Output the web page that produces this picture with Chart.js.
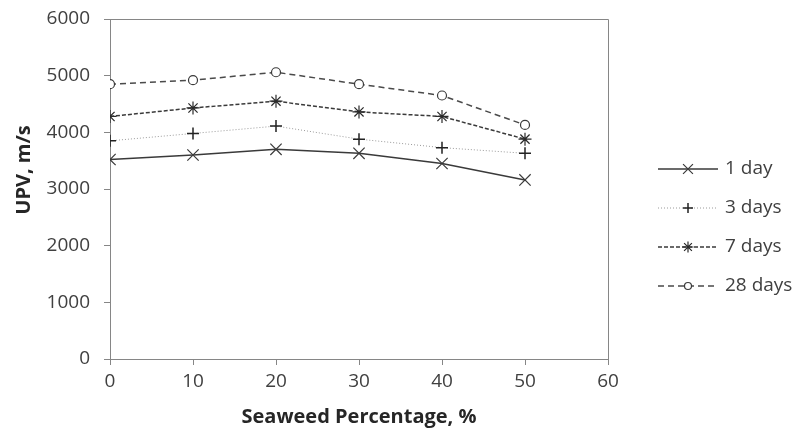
<!DOCTYPE html>
<html>
<head>
<meta charset="utf-8">
<script src="https://cdn.jsdelivr.net/npm/chart.js@4/dist/chart.umd.min.js"></script>
<style>
  html, body { margin: 0; padding: 0; background: #fff; }
  canvas { display: block; }
</style>
</head>
<body>
<canvas id="upvChart" width="797" height="432"></canvas>
<script>
    // Values
    const seaweedPct = [0, 10, 20, 30, 40, 50];
    const upv1Day   = [3520, 3600, 3700, 3630, 3450, 3160];
    const upv3Days  = [3850, 3980, 4110, 3880, 3730, 3630];
    const upv7Days  = [4280, 4430, 4550, 4360, 4280, 3880];
    const upv28Days = [4850, 4920, 5060, 4850, 4650, 4130];
    const seriesLabels = ['1 day', '3 days', '7 days', '28 days'];

    const axisGray = '#868686';
    const textGray = '#404040';
    const fontFamily = '"Open Sans", "Liberation Sans", sans-serif';

    const toPoints = vals => vals.map((v, i) => ({ x: seaweedPct[i], y: v }));

    // draws the plot box top/right edges, the custom legend and the y title
    const boxAndLegend = {
        id: 'boxAndLegend',
        beforeDatasetsDraw(chart) {
            const { ctx, chartArea: a } = chart;
            ctx.save();
            ctx.strokeStyle = axisGray;
            ctx.lineWidth = 1;
            ctx.beginPath();
            ctx.moveTo(a.left, a.top + 0.5);
            ctx.lineTo(a.right + 0.5, a.top + 0.5);
            ctx.lineTo(a.right + 0.5, a.bottom);
            ctx.stroke();
            ctx.restore();
        },
        afterDraw(chart) {
            const ctx = chart.ctx;
            ctx.save();
            // y axis title
            ctx.translate(24, 170);
            ctx.rotate(-Math.PI / 2);
            ctx.font = 'bold 20px ' + fontFamily;
            ctx.fillStyle = '#262626';
            ctx.textAlign = 'center';
            ctx.textBaseline = 'middle';
            ctx.fillText('UPV, m/s', 0, 0);
            ctx.restore();

            // legend
            const rowsY = [169, 208, 247, 286];
            chart.data.datasets.forEach((ds, i) => {
                const y = rowsY[i];
                ctx.save();
                ctx.strokeStyle = ds.borderColor;
                ctx.lineWidth = ds.borderWidth;
                ctx.setLineDash(ds.borderDash || []);
                ctx.beginPath();
                ctx.moveTo(658, y);
                ctx.lineTo(718, y);
                ctx.stroke();
                ctx.setLineDash([]);
                ctx.strokeStyle = ds.pointBorderColor;
                ctx.fillStyle = ds.pointBackgroundColor;
                ctx.lineWidth = ds.pointBorderWidth;
                Chart.helpers.drawPoint(ctx, {
                    pointStyle: ds.pointStyle,
                    radius: ds.pointRadius - 1,
                    borderWidth: ds.pointBorderWidth
                }, 688, y);
                ctx.restore();
                ctx.save();
                ctx.fillStyle = textGray;
                ctx.font = '19px ' + fontFamily;
                ctx.textBaseline = 'middle';
                ctx.fillText(ds.label, 725, y);
                ctx.restore();
            });
        }
    };

    function makeDataset(label, vals, opts) {
        return Object.assign({
            label: label,
            data: toPoints(vals),
            fill: false,
            tension: 0,
            pointBorderWidth: 1.2,
            pointBackgroundColor: '#fff'
        }, opts);
    }

    const ctx = document.getElementById('upvChart').getContext('2d');
    const upvChart = new Chart(ctx, {
        type: 'line',
        data: {
            datasets: [
                makeDataset(seriesLabels[0], upv1Day, {
                    borderColor: '#3a3a3a', borderWidth: 1.5,
                    pointStyle: 'crossRot', pointRadius: 8, pointBorderColor: '#3a3a3a'
                }),
                makeDataset(seriesLabels[1], upv3Days, {
                    borderColor: '#9a9a9a', borderWidth: 1, borderDash: [1, 2],
                    pointStyle: 'cross', pointRadius: 6, pointBorderColor: '#222', pointBorderWidth: 1.5
                }),
                makeDataset(seriesLabels[2], upv7Days, {
                    borderColor: '#3a3a3a', borderWidth: 1.5, borderDash: [4, 2],
                    pointStyle: 'star', pointRadius: 6.5, pointBorderColor: '#2a2a2a'
                }),
                makeDataset(seriesLabels[3], upv28Days, {
                    borderColor: '#4a4a4a', borderWidth: 1.5, borderDash: [6, 4],
                    pointStyle: 'circle', pointRadius: 4.5, pointBorderColor: '#3a3a3a'
                })
            ]
        },
        options: {
            responsive: false,
            animation: false,
            layout: { padding: { left: 0, right: 189, top: 19, bottom: 0 } },
            plugins: { legend: { display: false }, tooltip: { enabled: false } },
            scales: {
                x: {
                    type: 'linear', min: 0, max: 60,
                    afterFit: s => { s.height = 73; s.paddingLeft = 0; s.paddingRight = 0; },
                    ticks: { stepSize: 10, padding: 5, color: textGray, font: { family: fontFamily, size: 19 },
                             callback: v => String(v) },
                    grid: { drawOnChartArea: false, drawTicks: true, tickLength: 6, color: axisGray },
                    border: { color: axisGray },
                    title: {
                        display: true, text: 'Seaweed Percentage, %', color: '#262626',
                        font: { family: fontFamily, size: 20, weight: 'bold' },
                        padding: { top: 0, bottom: 3 }
                    }
                },
                y: {
                    min: 0, max: 6000,
                    afterFit: s => { s.width = 110; s.paddingTop = 0; s.paddingBottom = 0; },
                    ticks: { stepSize: 1000, padding: 14, color: textGray, font: { family: fontFamily, size: 19 },
                             callback: v => String(v) },
                    grid: { drawOnChartArea: false, drawTicks: true, tickLength: 6, color: axisGray },
                    border: { color: axisGray }
                }
            }
        },
        plugins: [boxAndLegend]
    });
</script>
</body>
</html>
